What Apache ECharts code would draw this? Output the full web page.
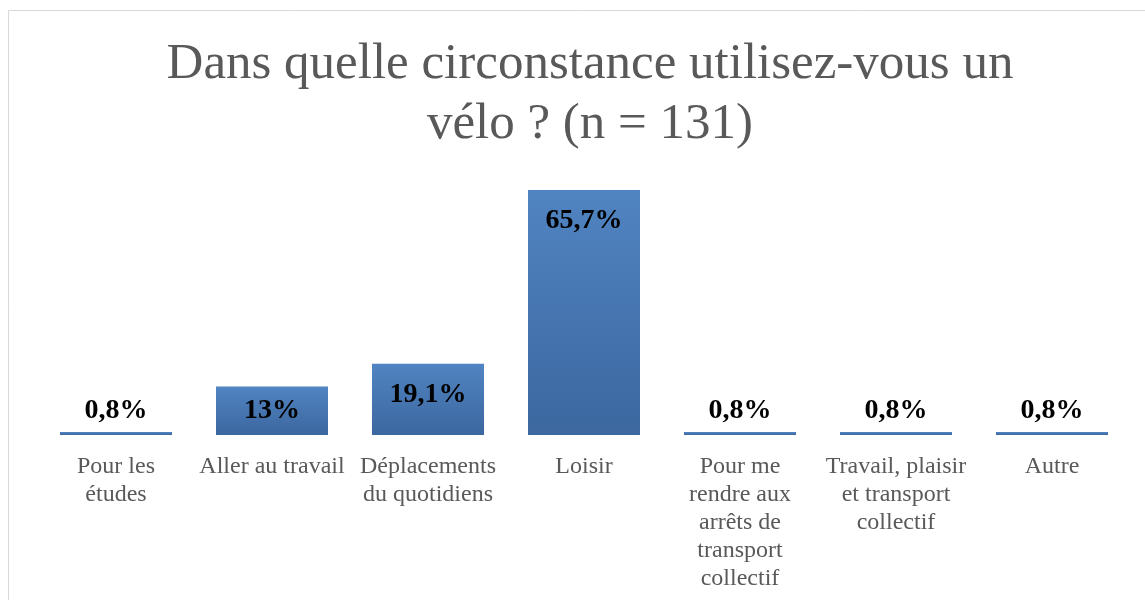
<!DOCTYPE html>
<html>
<head>
<meta charset="utf-8">
<script src="https://cdn.jsdelivr.net/npm/echarts@6/dist/echarts.min.js"></script>
<style>
  html, body { margin: 0; padding: 0; background: #fff; }
  #chart { width: 1145px; height: 600px; }
</style>
</head>
<body>
<div id="chart"></div>
<script>
// categories (line breaks as in the original chart)
const categories = [
  'Pour les\nétudes',
  'Aller au travail',
  'Déplacements\ndu quotidiens',
  'Loisir',
  'Pour me\nrendre aux\narrêts de\ntransport\ncollectif',
  'Travail, plaisir\net transport\ncollectif',
  'Autre'
];
// share of respondents, in %
const shares = [0.8, 13, 19.1, 65.7, 0.8, 0.8, 0.8];

const serif = '"Liberation Serif", "DejaVu Serif", serif';

const chart = echarts.init(document.getElementById('chart'));

const barColor = new echarts.graphic.LinearGradient(0, 0, 0, 1, [
  { offset: 0, color: '#5084c2' },
  { offset: 1, color: '#3c679f' }
]);

chart.setOption({
  animation: false,
  graphic: [{
    type: 'rect',
    shape: { x: 8.5, y: 10.5, width: 1300, height: 800 },
    style: { fill: 'none', stroke: '#d9d9d9', lineWidth: 1 },
    silent: true
  }],
  title: {
    text: 'Dans quelle circonstance utilisez-vous un\nvélo ? (n = 131)',
    left: 585,
    textAlign: 'center',
    top: 30,
    textStyle: {
      fontFamily: serif,
      fontSize: 51,
      fontWeight: 'normal',
      color: '#595959',
      lineHeight: 60
    }
  },
  grid: { left: 38, right: 15, top: 174, bottom: 165, containLabel: false },
  xAxis: {
    type: 'category',
    data: categories,
    axisLine: { show: false },
    axisTick: { show: false },
    axisLabel: {
      interval: 0,
      margin: 18,
      fontFamily: serif,
      fontSize: 24,
      color: '#595959',
      lineHeight: 28
    }
  },
  yAxis: {
    type: 'value',
    min: 0,
    max: 70,
    show: false,
    splitLine: { show: false }
  },
  series: [{
    type: 'bar',
    barWidth: 112,
    data: shares.map(v => ({
      value: v,
      label: v < 5
        ? { position: 'top', distance: 7 }
        : { position: 'insideTop', distance: v < 15 ? 10 : 17 }
    })),
    itemStyle: { color: barColor },
    label: {
      show: true,
      fontFamily: serif,
      fontSize: 28,
      fontWeight: 'bold',
      color: '#000',
      lineHeight: 28,
      formatter: p => String(p.value).replace('.', ',') + '%'
    }
  }]
});
</script>
</body>
</html>
